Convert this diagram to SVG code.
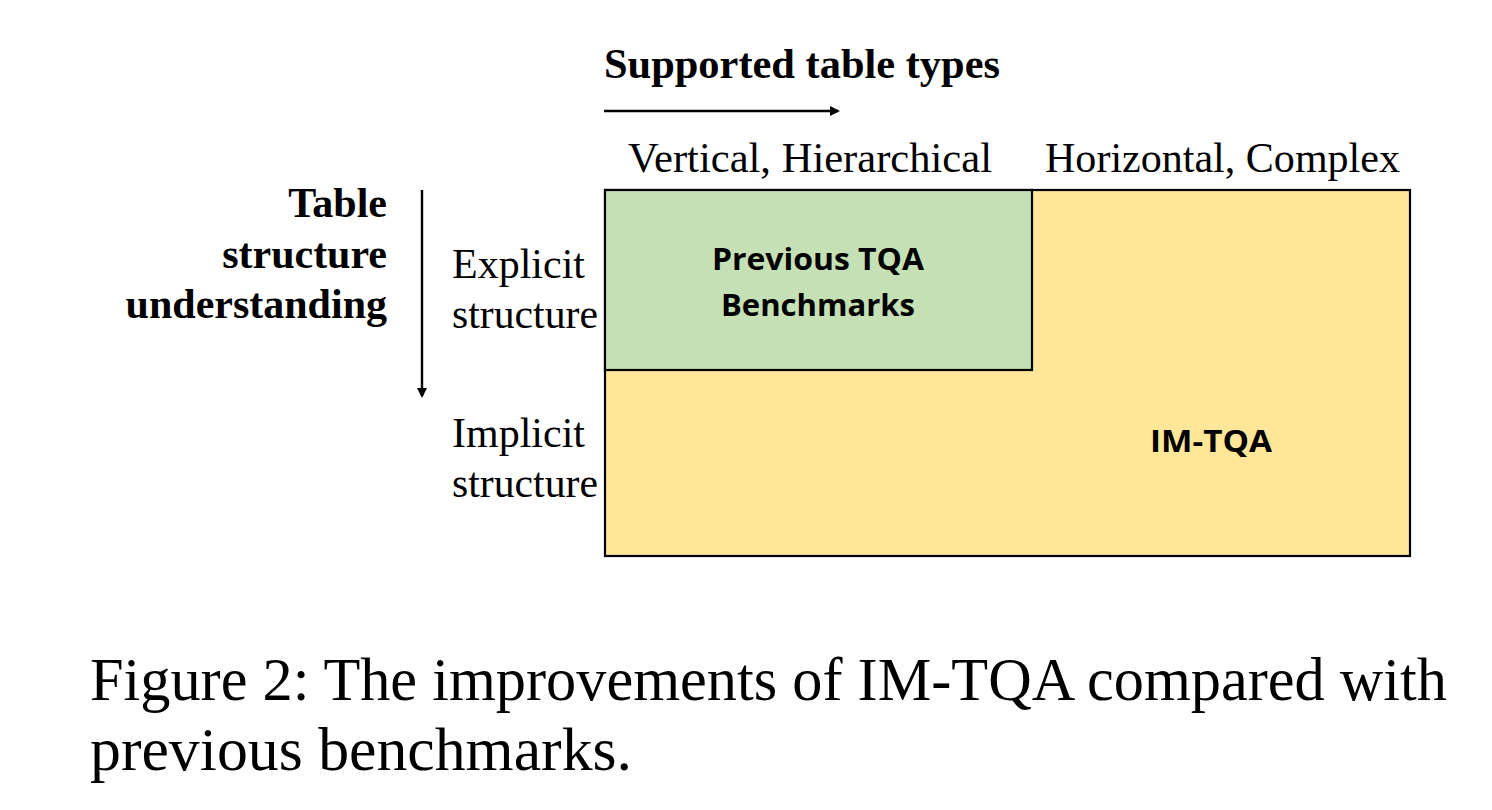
<svg xmlns="http://www.w3.org/2000/svg" width="1492" height="810" viewBox="0 0 1492 810">
<style>
.serif{font-family:"Liberation Serif","Times New Roman",serif;fill:#000}
.b{font-weight:bold}
.sans{font-family:"Open Sans","Noto Sans",sans-serif;font-weight:bold;fill:#000}
.box{stroke:#000;stroke-width:2.2}
.conn{stroke:#000;stroke-width:2.4;fill:none}
</style>
<defs>
<marker id="ah" markerWidth="10" markerHeight="10" refX="8" refY="5" orient="auto" markerUnits="userSpaceOnUse">
<path d="M0,0 L10,5 L0,10 Z" fill="#000"/>
</marker>
</defs>
<rect width="1492" height="810" fill="#fff"/>
<g id="imtqa">
<rect class="box" x="605" y="190" width="805" height="366" fill="#FFE699"/>
<text class="sans" x="1150" y="452" font-size="31" textLength="122" lengthAdjust="spacingAndGlyphs">IM-TQA</text>
</g>
<g id="previous">
<rect class="box" x="605" y="190" width="427" height="180" fill="#C5E0B4"/>
<text class="sans" x="712" y="270" font-size="31" textLength="212" lengthAdjust="spacingAndGlyphs">Previous TQA</text>
<text class="sans" x="721" y="316" font-size="31" textLength="194" lengthAdjust="spacingAndGlyphs">Benchmarks</text>
</g>
<g id="connectors">
<line class="conn" x1="604" y1="111" x2="838" y2="111" marker-end="url(#ah)"/>
<line class="conn" x1="422" y1="190" x2="422" y2="396" marker-end="url(#ah)"/>
</g>
<g id="labels">
<text class="serif b" x="604" y="78" font-size="42" textLength="396" lengthAdjust="spacingAndGlyphs">Supported table types</text>
<text class="serif" x="628" y="172" font-size="42" textLength="364" lengthAdjust="spacingAndGlyphs">Vertical, Hierarchical</text>
<text class="serif" x="1045" y="172" font-size="42" textLength="355" lengthAdjust="spacingAndGlyphs">Horizontal, Complex</text>
<text class="serif b" x="387" y="217" font-size="42" text-anchor="end">Table</text>
<text class="serif b" x="387" y="268" font-size="42" text-anchor="end">structure</text>
<text class="serif b" x="387" y="318" font-size="42" text-anchor="end">understanding</text>
<text class="serif" x="452" y="278" font-size="42">Explicit</text>
<text class="serif" x="452" y="328" font-size="42" textLength="146" lengthAdjust="spacingAndGlyphs">structure</text>
<text class="serif" x="452" y="447" font-size="42">Implicit</text>
<text class="serif" x="452" y="497" font-size="42" textLength="146" lengthAdjust="spacingAndGlyphs">structure</text>
</g>
<g id="caption">
<text class="serif" x="90" y="700" font-size="61" textLength="1357" lengthAdjust="spacingAndGlyphs">Figure 2:  The improvements of IM-TQA compared with</text>
<text class="serif" x="90" y="770" font-size="61" textLength="542" lengthAdjust="spacingAndGlyphs">previous benchmarks.</text>
</g>
</svg>
